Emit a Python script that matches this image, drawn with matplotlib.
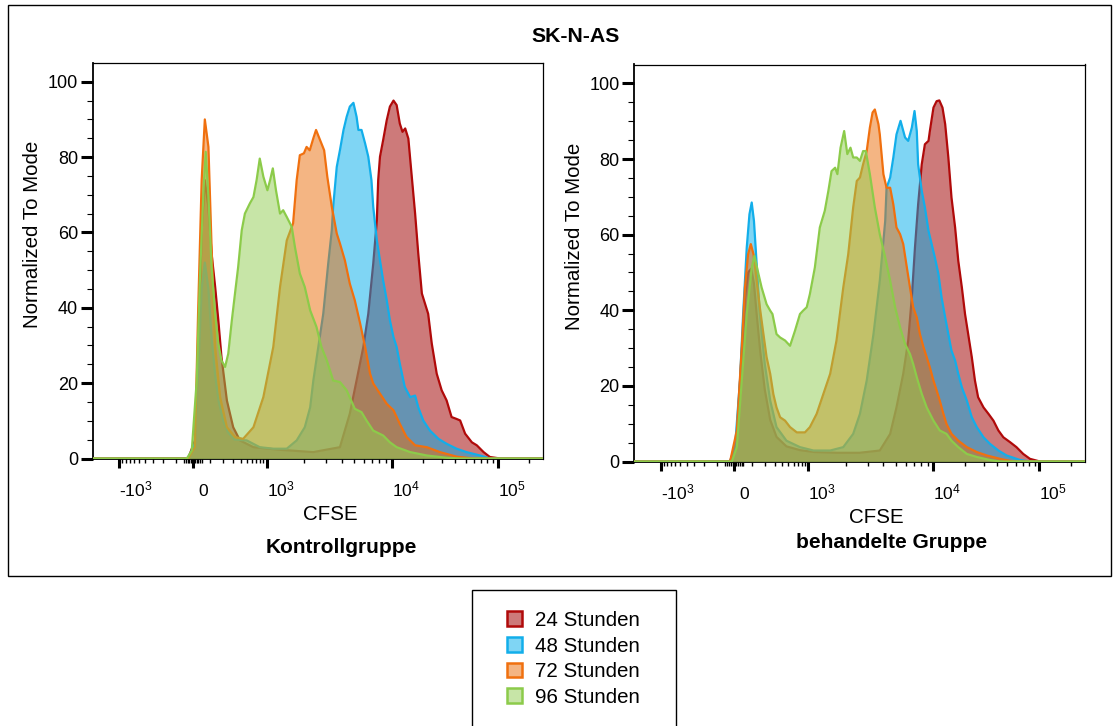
import numpy as np
import matplotlib
matplotlib.use("Agg")
import matplotlib.pyplot as plt
from matplotlib.patches import Patch, Rectangle
from matplotlib.transforms import ScaledTranslation

plt.rcParams['font.family'] = ['Liberation Sans', 'DejaVu Sans']
plt.rcParams['mathtext.fontset'] = 'custom'
plt.rcParams['mathtext.rm'] = 'Liberation Sans'
plt.rcParams['mathtext.it'] = 'Liberation Sans:italic'
plt.rcParams['mathtext.bf'] = 'Liberation Sans:bold'

# ---------------- data ----------------
# x = display channel (0-1000) on the biexponential CFSE axis, y = % of mode
title = "SK-N-AS"
series_labels = ["24 Stunden", "48 Stunden", "72 Stunden", "96 Stunden"]
panel_titles = ["Kontrollgruppe", "behandelte Gruppe"]
x_label = "CFSE"
y_label = "Normalized To Mode"

x_major_values = [-1000, 0, 1000, 10000, 100000]
x_major_labels = ["-$10^3$", "0", "$10^3$", "$10^4$", "$10^5$"]
y_major_values = [0, 20, 40, 60, 80, 100]

ctrl_24h = [(0, 0), (212, 0), (227, 4.8), (235, 29.6), (242, 60.6), (249, 73.9), (257, 66.8),
            (264, 54.4), (272, 45.5), (279, 36.7), (286, 26.9), (298, 15.4), (312, 8.3),
            (327, 4.8), (357, 3.0), (416, 2.3), (490, 1.7), (549, 3.0), (571, 11.9),
            (586, 20.7), (601, 29.6), (612, 38.4), (623, 51.7), (631, 63.2), (634, 73.9),
            (638, 80.1), (645, 84.5), (653, 89.8), (660, 93.4), (668, 95.0), (675, 93.8),
            (682, 88.9), (688, 86.7), (694, 87.6), (701, 84.9), (708, 75.6), (716, 65.0),
            (723, 54.4), (731, 43.8), (738, 41.1), (745, 38.4), (753, 30.5), (764, 22.5),
            (775, 18.1), (786, 15.4), (797, 11.0), (808, 10.5), (816, 10.1), (827, 6.6),
            (842, 4.3), (853, 3.5), (868, 1.7), (882, 0.4), (905, 0), (1000, 0)]
ctrl_48h = [(0, 0), (212, 0), (227, 4), (235, 25), (242, 45), (249, 52), (257, 45), (264, 32),
            (272, 22), (280, 15), (290, 10), (300, 7), (315, 5), (342, 4.8), (371, 3.0),
            (401, 2.6), (431, 2.6), (453, 4.8), (471, 8.3), (483, 13.6), (490, 20.7),
            (501, 29.6), (512, 38.4), (523, 51.7), (531, 60.6), (534, 66.8), (542, 77.4),
            (549, 81.8), (557, 87.2), (564, 90.7), (571, 93.4), (579, 94.4), (586, 90.7),
            (590, 87.2), (597, 87.2), (605, 83.6), (612, 80.1), (619, 73.9), (623, 66.8),
            (631, 57.9), (638, 52.6), (645, 47.3), (653, 42.0), (660, 36.7), (668, 32.2),
            (675, 29.6), (682, 25.2), (693, 19.0), (705, 16.3), (716, 16.7), (723, 13.6),
            (734, 10.1), (749, 7.4), (768, 5.2), (786, 3.9), (808, 2.6), (830, 1.7),
            (860, 0.8), (882, 0), (1000, 0)]
ctrl_72h = [(0, 0), (212, 0), (227, 3.0), (234, 38.4), (242, 73.9), (249, 90.0), (257, 82.7),
            (264, 56.2), (272, 29.6), (283, 16.3), (298, 8.3), (316, 5.7), (334, 5.2),
            (357, 8.3), (379, 16.3), (401, 29.6), (416, 45.5), (431, 57.9), (445, 62.4),
            (453, 73.9), (460, 80.5), (469, 81.0), (475, 82.7), (482, 81.8), (490, 85.0),
            (496, 87.2), (505, 84.5), (514, 81.8), (521, 74.8), (531, 66.8), (542, 59.7),
            (549, 57.1), (560, 52.6), (571, 46.4), (582, 42.0), (594, 35.8), (605, 29.6),
            (616, 22.5), (623, 19.9), (638, 17.2), (653, 14.5), (668, 12.8), (682, 9.2),
            (697, 5.7), (716, 3.5), (742, 3.0), (771, 1.7), (808, 0.5), (845, 0), (1000, 0)]
ctrl_96h = [(0, 0), (209, 0), (220, 2.1), (231, 20.7), (238, 47.3), (246, 71.2), (251, 81.4),
            (257, 69.4), (264, 50.8), (272, 38.4), (279, 30.5), (286, 26.0), (294, 24.3),
            (301, 27.8), (309, 36.7), (316, 43.8), (323, 50.8), (331, 60.6), (338, 65.0),
            (349, 67.7), (357, 69.4), (364, 73.9), (371, 79.6), (379, 74.8), (388, 71.2),
            (394, 73.9), (400, 77.0), (407, 71.2), (416, 65.0), (423, 65.9), (431, 64.1),
            (442, 61.5), (449, 56.2), (460, 49.1), (471, 45.5), (483, 39.3), (497, 34.9),
            (508, 29.6), (520, 26.0), (534, 20.7), (549, 20.3), (564, 18.1), (582, 13.2),
            (597, 12.3), (608, 10.1), (623, 7.4), (645, 6.1), (660, 4.3), (675, 3.0),
            (705, 1.7), (742, 0.8), (786, 0.2), (816, 0), (1000, 0)]

treat_24h = [(0, 0), (213, 0), (227, 5), (238, 27), (246, 43), (253, 50), (260, 51), (266, 47),
             (272, 39), (280, 29), (290, 19), (302, 11), (316, 6.5), (338, 4), (368, 3),
             (400, 2.5), (450, 2.3), (500, 2.3), (545, 2.9), (568, 7.3), (582, 14.3),
             (597, 23.2), (608, 32.0), (616, 43.4), (623, 56.6), (630, 68.0), (638, 78.6),
             (645, 83.9), (653, 84.8), (656, 87.4), (664, 93.6), (671, 95.3), (677, 95.5),
             (684, 93.6), (690, 89.2), (697, 80.4), (704, 69.8), (712, 61.9), (719, 53.1),
             (727, 46.0), (734, 39.0), (741, 33.7), (749, 27.6), (756, 21.4), (763, 17.0),
             (775, 14.3), (786, 12.6), (797, 10.8), (808, 8.2), (819, 6.4), (834, 5.1),
             (848, 3.8), (863, 2.0), (878, 0.7), (900, 0), (1000, 0)]
treat_48h = [(0, 0), (213, 0), (224, 3.8), (235, 21.4), (242, 39.0), (250, 56.6), (256, 65.4),
             (261, 68.5), (266, 63.6), (272, 52.2), (279, 39.0), (290, 25.8), (302, 16.1),
             (316, 9.1), (338, 5.5), (368, 3.8), (398, 2.9), (435, 2.9), (464, 3.8),
             (486, 7.3), (501, 12.6), (516, 21.4), (531, 33.7), (545, 47.8), (557, 63.6),
             (560, 72.4), (568, 75.1), (575, 80.4), (582, 86.5), (591, 90.1), (601, 85.7),
             (608, 84.8), (616, 88.3), (622, 92.7), (627, 87.4), (630, 78.6), (638, 71.6),
             (645, 67.2), (653, 61.0), (660, 57.5), (667, 54.0), (675, 49.6), (682, 43.4),
             (690, 38.1), (697, 33.7), (704, 29.3), (712, 26.7), (719, 23.2), (727, 19.6),
             (738, 16.1), (749, 11.7), (760, 9.1), (775, 6.4), (789, 4.7), (808, 2.9),
             (826, 1.6), (856, 0.4), (878, 0), (1000, 0)]
treat_72h = [(0, 0), (213, 0), (228, 8.2), (239, 30.2), (246, 46.0), (253, 54.8), (259, 57.5),
             (265, 54.8), (272, 47.8), (279, 40.8), (287, 33.7), (294, 27.6), (302, 23.2),
             (309, 17.8), (316, 14.3), (324, 11.7), (335, 10.8), (346, 9.1), (361, 7.7),
             (379, 7.7), (390, 9.1), (405, 12.6), (420, 17.9), (435, 23.2), (449, 32.0),
             (464, 46.0), (475, 54.8), (486, 67.2), (494, 74.2), (501, 75.1), (508, 78.6),
             (516, 82.1), (523, 88.3), (529, 92.3), (534, 93.1), (542, 89.2), (545, 86.5),
             (553, 76.0), (560, 72.4), (568, 72.4), (575, 68.0), (582, 61.9), (590, 60.1),
             (597, 57.5), (605, 51.3), (612, 46.0), (619, 40.8), (627, 38.1), (634, 33.7),
             (642, 30.2), (649, 27.6), (656, 24.9), (664, 21.4), (671, 18.8), (678, 16.1),
             (686, 12.6), (693, 9.9), (704, 7.3), (719, 5.5), (738, 3.8), (760, 2.5),
             (782, 1.6), (812, 0.7), (841, 0), (1000, 0)]
treat_96h = [(0, 0), (217, 0), (228, 3.8), (239, 21.4), (250, 39.0), (261, 51.3), (267, 54.4),
             (276, 49.6), (283, 46.0), (294, 41.6), (302, 39.9), (307, 39.0), (316, 33.7),
             (324, 32.8), (335, 32.0), (346, 30.6), (357, 34.6), (368, 39.0), (375, 39.9),
             (383, 40.8), (390, 44.3), (401, 51.3), (412, 61.9), (423, 66.3), (431, 71.6),
             (438, 76.8), (446, 77.7), (451, 76.0), (458, 83.0), (466, 87.4), (473, 81.3),
             (480, 83.0), (486, 80.4), (494, 80.4), (501, 79.5), (508, 82.1), (514, 82.1),
             (523, 76.0), (534, 67.2), (545, 60.1), (557, 54.0), (568, 47.8), (579, 40.8),
             (590, 35.5), (601, 31.1), (612, 28.4), (619, 25.8), (627, 22.3), (638, 17.9),
             (649, 14.3), (664, 10.8), (678, 8.2), (693, 7.3), (704, 5.5), (719, 3.8),
             (738, 2.0), (760, 1.2), (789, 0.4), (812, 0), (1000, 0)]

panels = [[ctrl_24h, ctrl_48h, ctrl_72h, ctrl_96h],
          [treat_24h, treat_48h, treat_72h, treat_96h]]

# ---------------- style ----------------
fill_colors = [(172/255, 33/255, 33/255), (1/255, 173/255, 235/255),
               (235/255, 109/255, 9/255), (145/255, 205/255, 81/255)]
fill_alphas = [0.6, 0.5, 0.5, 0.5]
line_colors = ["#B00A0A", "#12AEEA", "#F0700F", "#8CCB4A"]


def biex(v):
    """value -> display channel (0..1000) of the biexponential axis"""
    v = np.atleast_1d(np.asarray(v, float))
    zero, lin, d1, d2, w = 222.7, 163.3, 277.6, 235.4, 160.0
    out = np.empty_like(v)
    a = np.abs(v)
    s = np.sign(v)
    small = a <= 1000
    out[small] = zero + s[small] * lin * np.arcsinh(a[small] / w) / np.arcsinh(1000 / w)
    mid = (a > 1000) & (a <= 1e4)
    out[mid] = zero + s[mid] * (lin + d1 * np.log10(a[mid] / 1000))
    big = a > 1e4
    out[big] = zero + s[big] * (lin + d1 + d2 * np.log10(a[big] / 1e4))
    return out


x_minor_values = ([-100 * k for k in range(1, 10)] + [100 * k for k in range(1, 10)] +
                  [-50, -40, -30, -20, -10, 10, 20, 30, 40, 50] +
                  [1000 * k for k in range(2, 10)] + [10000 * k for k in range(2, 10)] +
                  [200000])

W, H = 1113, 726
fig = plt.figure(figsize=(W / 100, H / 100), dpi=100)
fig.patch.set_facecolor("white")

axes_px = [(92.7, 62.9, 543.0, 458.5), (634.0, 64.5, 1085.0, 461.5)]
xlabel_pos = [0.527, 0.537]
sub_pos = [(0.551, -0.224), (0.570, -0.205)]

for p, (x0, y0, x1, y1) in enumerate(axes_px):
    ax = fig.add_axes([x0 / W, 1 - y1 / H, (x1 - x0) / W, (y1 - y0) / H])
    for i, pts in enumerate(panels[p]):
        arr = np.array(pts, float)
        ax.fill_between(arr[:, 0], arr[:, 1], 0, color=fill_colors[i], alpha=fill_alphas[i],
                        lw=0, zorder=2 * i + 1)
        ax.plot(arr[:, 0], arr[:, 1], color=line_colors[i], lw=1.6, zorder=2 * i + 2,
                solid_joinstyle="round")
    ax.set_xlim(0, 1000)
    ax.set_ylim(0, 105)
    ax.set_xticks(biex(x_major_values))
    ax.set_xticklabels(x_major_labels)
    ax.set_xticks(biex(x_minor_values), minor=True)
    ax.set_yticks(y_major_values)
    ax.set_yticks(np.arange(0, 101, 5), minor=True)
    ax.tick_params(axis="x", which="major", length=6.5, width=2.2, pad=20.5, labelsize=12.5)
    ax.tick_params(axis="x", which="minor", length=3.2, width=1.0)
    ax.tick_params(axis="y", which="major", length=9, width=2.2, pad=1.5, labelsize=13)
    ax.tick_params(axis="y", which="minor", length=4.3, width=0.8)
    for lab in ax.get_xticklabels():
        lab.set_horizontalalignment("left")
        lab.set_verticalalignment("baseline")
        if lab.get_text() == "0":
            lab.set_transform(lab.get_transform() + ScaledTranslation(5 / 100, 0, fig.dpi_scale_trans))
    for side in ("left", "bottom"):
        ax.spines[side].set_linewidth(1.3)
    for side in ("top", "right"):
        ax.spines[side].set_linewidth(0.9)
    ax.set_xlabel(x_label, fontsize=14.8)
    ax.xaxis.label.set_va("top")
    ax.xaxis.set_label_coords(xlabel_pos[p], -0.118)
    ax.set_ylabel(y_label, fontsize=14.8)
    ax.yaxis.label.set_va("center")
    ax.yaxis.set_label_coords(-0.1326, 0.567)
    ax.text(sub_pos[p][0], sub_pos[p][1], panel_titles[p], transform=ax.transAxes,
            ha="center", va="center", fontsize=15, fontweight="bold")

fig.text(576 / W, 1 - 37 / H, title, ha="center", va="center", fontsize=15.3,
         fontweight="bold")

# outer frame
fig.add_artist(Rectangle((8 / W, 1 - 576 / H), (1111 - 8) / W, (576 - 5) / H, fill=False,
                         lw=1.0, edgecolor="black", transform=fig.transFigure))
# legend box
fig.add_artist(Rectangle((472 / W, -20 / H), (676 - 472) / W, (726 - 590 + 20) / H, fill=False,
                         lw=1.0, edgecolor="black", transform=fig.transFigure))
handles = [Patch(facecolor=fill_colors[i] + (fill_alphas[i],), edgecolor=line_colors[i], lw=1.8)
           for i in range(4)]
fig.legend(handles, series_labels, loc="upper left", bbox_to_anchor=(507 / W, 1 - 611 / H),
           frameon=False, fontsize=14.8, handlelength=0.72, handleheight=0.72,
           handletextpad=0.62, labelspacing=0.32, borderpad=0, borderaxespad=0)

fig.savefig("out.png", dpi=100)
